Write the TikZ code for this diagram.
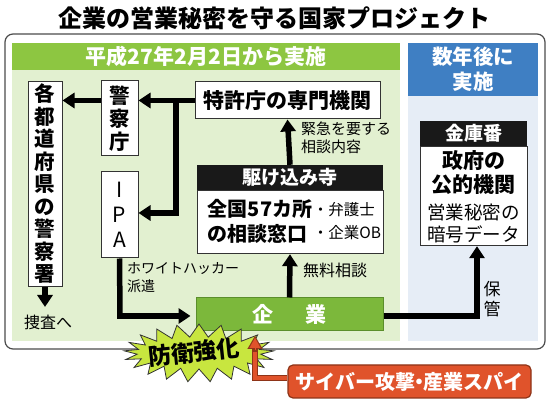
\documentclass[tikz,border=0pt]{standalone}
\usepackage{fontspec}
\setmainfont{Noto Sans CJK JP}
\usetikzlibrary{arrows.meta,shapes.symbols}
\definecolor{lgreen}{HTML}{E2F0D0}
\definecolor{hgreen}{HTML}{8DC641}
\definecolor{kgreen}{HTML}{7CB83B}
\definecolor{kgreenb}{HTML}{5B8E2B}
\definecolor{lblue}{HTML}{E6EDF6}
\definecolor{hblue}{HTML}{3F7FC3}
\definecolor{burst}{HTML}{C8E63F}
\definecolor{orng}{HTML}{E0532B}
\definecolor{orngb}{HTML}{8E3418}
\newcommand{\fs}[2]{\fontsize{#1}{#2}\selectfont}
\tikzset{
  wbox/.style={draw=black!80,line width=1pt,fill=white,inner sep=0pt},
  blk/.style={fill=black!90,text=white,inner sep=0pt,font=\bfseries\fs{19}{21}},
  arr/.style={line width=5.5pt,-{Triangle[width=15pt,length=12pt]}},
  ln/.style={line width=5.5pt},
  lbl/.style={inner sep=0pt,align=left,font=\fs{14}{18}}
}
\begin{document}
\begin{tikzpicture}[x=1pt,y=-1pt]
\useasboundingbox (0,0) rectangle (550,403);
\fill[white] (0,0) rectangle (550,403);
% title
\node[font=\bfseries\fs{24}{26}] (title) at (275,18) {企業の営業秘密を守る国家プロジェクト};
% frame
\draw[black!70,line width=1.2pt,rounded corners=8pt] (5,34) rectangle (545,349);
\fill[lgreen] (12,43) rectangle (400,341);
\fill[hgreen] (12,43) rectangle (400,70);
\node[text=white,font=\bfseries\fs{21}{22}] (hdr1) at (206,57) {平成27年2月2日から実施};
\fill[lblue] (408,43) rectangle (538,341);
\fill[hblue] (408,43) rectangle (538,96);
\node[text=white,align=center,font=\bfseries\fs{20.5}{25}] (hdr2) at (473,69) {数年後に\\実施};
% left boxes
\node[wbox,minimum width=34pt,minimum height=205pt,align=center,font=\bfseries\fs{20.5}{22.5}] (pref) at (45,184) {各\\都\\道\\府\\県\\の\\警\\察\\署};
\node[wbox,minimum width=37pt,minimum height=75pt,align=center,font=\bfseries\fs{20.5}{23}] (npa) at (119.5,118.5) {警\\察\\庁};
\node[wbox,minimum width=37pt,minimum height=86pt,align=center,font=\fs{21}{25}] (ipa) at (119.5,215) {I\\P\\A};
\node[wbox,minimum width=185pt,minimum height=37pt,font=\bfseries\fs{21}{23}] (jpo) at (287.5,100.5) {特許庁の専門機関};
% kakekomi-dera
\node[blk,minimum width=186pt,minimum height=25pt] (kk) at (290,177.5) {駆け込み寺};
\node[wbox,minimum width=186pt,minimum height=63pt,anchor=north] (kkb) at (kk.south) {};
\node[align=left,inner sep=0pt,font=\bfseries\fs{20}{25}] (kkt) at (260,221.5) {全国57カ所\\の相談窓口};
\node[align=left,inner sep=0pt,font=\fs{15.5}{23}] (kkt2) at (347,221.5) {・弁護士\\・企業OB};
% company
\node[fill=kgreen,draw=kgreenb,line width=1pt,minimum width=187pt,minimum height=33pt,text=white,font=\bfseries\fs{21}{22}] (corp) at (289.5,314.5) {企\hspace{1.5em}業};
% kinkoban
\node[blk,minimum width=107pt,minimum height=25pt] (kin) at (473.5,133.5) {金庫番};
\node[wbox,minimum width=107pt,minimum height=99pt,anchor=north] (kinb) at (kin.south) {};
\node[align=center,inner sep=0pt,font=\bfseries\fs{21}{24}] (kint) at (473.5,173) {政府の\\公的機関};
\node[align=center,inner sep=0pt,font=\fs{18.5}{22}] (kint2) at (473.5,223) {営業秘密の\\暗号データ};
% arrows
\draw[arr] (jpo.west) -- (npa.east |- jpo.west);
\coordinate (npaR) at (npa.west |- jpo.west);
\draw[arr] (npaR) -- (pref.east |- npaR);
\coordinate (j1) at (176,100.5);
\coordinate (j2) at (176,213);
\draw[ln] (j1) -- (j2);
\draw[arr] ([xshift=2.75pt]j2) -- (ipa.east |- j2);
\coordinate (i1) at (120,316);
\draw[ln] (ipa.south) -- ([yshift=2.75pt]i1);
\draw[arr,shorten >=5pt] ([xshift=-2.75pt]i1) -- (corp.west |- i1);
\draw[arr] (corp.north) -- (kkb.south);
\draw[arr] (kk.north) -- (jpo.south);
\coordinate (k1) at (477,316);
\draw[ln] (corp.east |- k1) -- ([xshift=2.75pt]k1);
\draw[arr] ([yshift=2.75pt]k1) -- (kinb.south -| k1);
\coordinate (pd) at (45,307);
\draw[arr] (pref.south) -- (pd);
% labels
\node[lbl,font=\fs{16}{18}] (sousa) at (48,322) {捜査へ};
\node[lbl,anchor=north west] (wh) at (127,262) {ホワイトハッカー\\派遣};
\node[lbl,anchor=west,font=\fs{16}{18}] (muryo) at (303,270) {無料相談};
\node[lbl,anchor=north west,font=\fs{15}{18}] (kinkyu) at (301,122) {緊急を要する\\相談内容};
\node[lbl,align=center,font=\fs{17}{20}] (hokan) at (492,299) {保\\管};
% attack
\node[fill=orng,draw=orngb,line width=1.2pt,rounded corners=5pt,minimum width=243pt,minimum height=33pt,text=white,font=\bfseries\fs{20}{22}] (atk) at (409.5,381.5) {サイバー攻撃\kern-0.3em・\kern-0.3em 産業スパイ};
\node[starburst,starburst points=21,starburst point height=13pt,random starburst=0,fill=burst,draw=black!80,line width=0.8pt,minimum width=150pt,minimum height=58pt,inner sep=0pt] (burstn) at (199,353) {};
\node[rotate=6,font=\bfseries\fs{23}{26}] (bt) at (194,352) {防衛強化};
\coordinate (a1) at (255,378);
\draw[orngb,line width=6pt] (atk.west |- a1) -- (a1) -- (255,345);
\draw[orngb,-{Triangle[width=15pt,length=13pt]},line width=0.1pt,fill=orngb] (255,350) -- (255,336);
\draw[orng,line width=3.6pt] (atk.west |- a1) -- (a1) -- (255,352);
\draw[orng,-{Triangle[width=11pt,length=10pt]},line width=0.1pt] (255,350) -- (255,338);
\end{tikzpicture}
\end{document}
